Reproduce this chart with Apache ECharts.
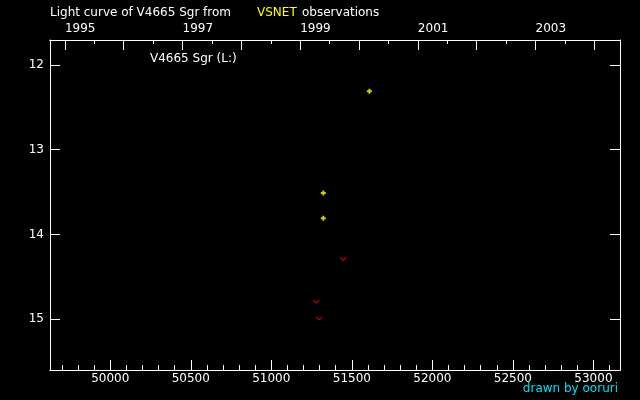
<!DOCTYPE html>
<html>
<head>
<meta charset="utf-8">
<script src="https://cdn.jsdelivr.net/npm/echarts@6/dist/echarts.min.js"></script>
<style>
html,body{margin:0;padding:0;background:#000;}
#c{width:640px;height:400px;}
</style>
</head>
<body>
<div id="c"></div>
<script>
// ---- data ----
const plusMJD = [51323, 51323, 51609];
const plusMag = [13.51, 13.81, 12.31];
const limitMJD = [51279, 51298, 51447];
const limitMag = [14.79, 14.99, 14.29];

const mjdMajorTicks = [50000, 50500, 51000, 51500, 52000, 52500, 53000];
const mjdMinorTicks = [49700,49800,49900,50100,50200,50300,50400,50600,50700,50800,50900,
  51100,51200,51300,51400,51600,51700,51800,51900,52100,52200,52300,52400,
  52600,52700,52800,52900,53100];
const yearTicks = [1995,1996,1997,1998,1999,2000,2001,2002,2003,2004];
const yearHalfTicks = [1995.5,1996.5,1997.5,1998.5,1999.5,2000.5,2001.5,2002.5,2003.5];
const yearLabels = [1995, 1997, 1999, 2001, 2003];
const magTicks = [12, 13, 14, 15];

const xMin = 49626, xMax = 53165;
const magMin = 11.705, magMax = 15.60;
const mjdToYear = m => 1995 + (m - 49718.5) / 365.25;

const FONT = 'DejaVu Sans';
const white = '#ffffff';
const plain = v => String(Math.round(v));

const chart = echarts.init(document.getElementById('c'), null, {renderer: 'canvas'});

const baseX = {
  type: 'value', splitLine: {show: false},
  axisLine: {show: true, lineStyle: {color: white, width: 1}},
};

chart.setOption({
  backgroundColor: '#000000',
  animation: false,
  grid: {left: 50, right: 20, top: 40, bottom: 30},
  xAxis: [
    Object.assign({}, baseX, {
      position: 'bottom', min: xMin, max: xMax,
      axisTick: {show: true, inside: true, length: 10, customValues: mjdMajorTicks, lineStyle: {color: white}},
      axisLabel: {show: true, customValues: mjdMajorTicks, formatter: plain, color: white, fontFamily: FONT, fontSize: 12, margin: 3}
    }),
    Object.assign({}, baseX, {
      position: 'bottom', min: xMin, max: xMax,
      axisTick: {show: true, inside: true, length: 5, customValues: mjdMinorTicks, lineStyle: {color: white}},
      axisLabel: {show: false}
    }),
    Object.assign({}, baseX, {
      position: 'top', min: mjdToYear(xMin), max: mjdToYear(xMax),
      axisTick: {show: true, inside: true, length: 10, customValues: yearTicks, lineStyle: {color: white}},
      axisLabel: {show: true, customValues: yearLabels, formatter: plain, color: white, fontFamily: FONT, fontSize: 12, margin: 5, align: 'left'}
    }),
    Object.assign({}, baseX, {
      position: 'top', min: mjdToYear(xMin), max: mjdToYear(xMax),
      axisTick: {show: true, inside: true, length: 4, customValues: yearHalfTicks, lineStyle: {color: white}},
      axisLabel: {show: false}
    })
  ],
  yAxis: [
    {
      type: 'value', position: 'left', inverse: true, min: magMin, max: magMax,
      splitLine: {show: false},
      axisLine: {show: true, lineStyle: {color: white}},
      axisTick: {show: true, inside: true, length: 10, customValues: magTicks, lineStyle: {color: white}},
      axisLabel: {show: true, customValues: magTicks, formatter: plain, color: white, fontFamily: FONT, fontSize: 12, margin: 6}
    },
    {
      type: 'value', position: 'right', inverse: true, min: magMin, max: magMax,
      splitLine: {show: false},
      axisLine: {show: true, lineStyle: {color: white}},
      axisTick: {show: true, inside: true, length: 10, customValues: magTicks, lineStyle: {color: white}},
      axisLabel: {show: false}
    }
  ],
  series: [
    {
      type: 'scatter', xAxisIndex: 0, yAxisIndex: 0,
      data: plusMJD.map((m, i) => [m, plusMag[i]]),
      symbol: 'path://M1.5,0H3.5V1.5H5V3.5H3.5V5H1.5V3.5H0V1.5H1.5Z',
      symbolSize: 5,
      itemStyle: {color: '#ffff00'}
    },
    {
      type: 'scatter', xAxisIndex: 0, yAxisIndex: 0,
      data: limitMJD.map((m, i) => [m, limitMag[i]]),
      symbol: 'path://M0,0L3,3L6,0',
      symbolSize: [6, 3],
      itemStyle: {color: 'none', borderColor: '#ff0000', borderWidth: 1}
    }
  ],
  graphic: [
    {type: 'text', left: 50, top: 7, style: {text: 'Light curve of V4665 Sgr from', fill: white, font: '12px "DejaVu Sans"'}},
    {type: 'text', left: 257, top: 7, style: {text: 'VSNET', fill: '#ffff00', font: '12px "DejaVu Sans"'}},
    {type: 'text', left: 302, top: 7, style: {text: 'observations', fill: white, font: '12px "DejaVu Sans"'}},
    {type: 'text', left: 150, top: 53, style: {text: 'V4665 Sgr (L:)', fill: white, font: '12px "DejaVu Sans"'}},
    {type: 'text', right: 22, top: 383, style: {text: 'drawn by ooruri', fill: '#00e0f0', font: '12px "DejaVu Sans"'}}
  ]
});
</script>
</body>
</html>
